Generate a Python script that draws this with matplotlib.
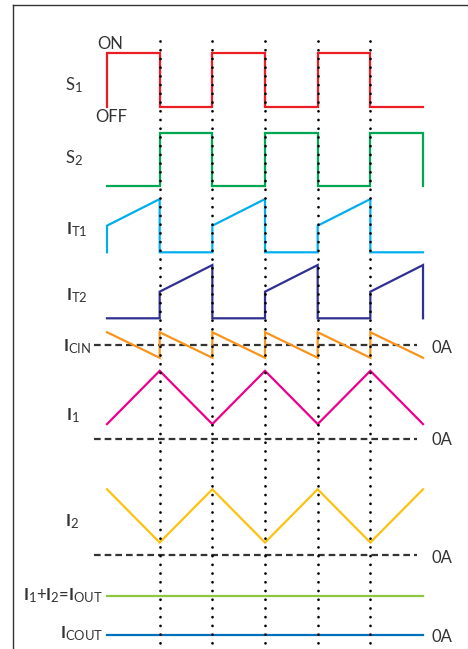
import numpy as np
import matplotlib
matplotlib.use("Agg")
import matplotlib.pyplot as plt
import matplotlib._mathtext as mtext
from matplotlib.lines import Line2D

plt.rcParams["font.family"] = ["Lato", "DejaVu Sans"]
plt.rcParams["mathtext.fontset"] = "custom"
plt.rcParams["mathtext.rm"] = "Lato"
plt.rcParams["mathtext.bf"] = "Lato:bold"
plt.rcParams["mathtext.it"] = "Lato"
plt.rcParams["mathtext.default"] = "regular"
mtext.SHRINK_FACTOR = 0.78  # subscripts a bit bigger, like the original artwork

# --- data (half periods of the switching cycle) ---
t_edges = np.arange(7)                  # switching instants 0..6
s1_state = [1, 0, 1, 0, 1, 0]           # S1 on/off per half period
s2_state = [0, 1, 0, 1, 0, 1]           # S2 on/off per half period
s_level = 2.5                           # switch "ON" level
it_start, it_peak = 1.25, 2.5           # transistor current ramp when on
icin_top, icin_bot = 0.6, -0.6          # input cap current sawtooth
i1_vals = [0.7, 3.2, 0.7, 3.2, 0.7, 3.2, 0.7]
i2_vals = [3.1, 0.6, 3.1, 0.6, 3.1, 0.6, 3.1]
i_out = 3.8
i_cout = 0.0

# --- layout (pixels) ---
W, H = 468, 649
T0_PX, DT_PX = 107, 52.67
SCALE = 21.3
INK = "#333333"


def pulse_path(states, lo, hi):
    t, y = [0], [0.0]
    for k, s in enumerate(states):
        t += [k, k + 1]
        y += [lo, hi] if s else [0.0, 0.0]
    t.append(len(states))
    y.append(0.0)
    return np.array(t), np.array(y)


def saw_path(n, top, bot):
    t, y = [], []
    for k in range(n):
        t += [k, k + 1]
        y += [top, bot]
    return np.array(t), np.array(y)


fig = plt.figure(figsize=(W / 100, H / 100), dpi=100)
ax = fig.add_axes([0, 0, 1, 1])
ax.set_xlim(-T0_PX / DT_PX, (W - T0_PX) / DT_PX)
ax.set_ylim(0, H)
ax.axis("off")

n = len(s1_state)
traces = [
    (pulse_path(s1_state, s_level, s_level), H - 106.7, "#ed1c24"),
    (pulse_path(s2_state, s_level, s_level), H - 186.0, "#00a651"),
    (pulse_path(s1_state, it_start, it_peak), H - 252.3, "#00aeef"),
    (pulse_path(s2_state, it_start, it_peak), H - 318.3, "#2e3192"),
    (saw_path(n, icin_top, icin_bot), H - 345.0, "#f7941d"),
    ((t_edges, np.array(i1_vals)), H - 439.0, "#ec008c"),
    ((t_edges, np.array(i2_vals)), H - 555.3, "#fdc20f"),
    ((t_edges[[0, -1]], np.full(2, i_out)), H - 596 - i_out * SCALE, "#8dc63f"),
    ((t_edges[[0, -1]], np.full(2, i_cout)), H - 635.0, "#0072bc"),
]
for (tt, yy), base, col in traces:
    ax.plot(tt, base + yy * SCALE, color=col, lw=1.6, solid_joinstyle="miter", zorder=2)

# zero reference lines
for base in [H - 345.0, H - 439.0, H - 555.3]:
    ax.plot([-0.24, 5.88], [base, base], color=INK, lw=1.6,
            linestyle=(0, (3.0, 1.8)), zorder=1)

# dotted timing markers
for t in t_edges[1:-1]:
    ax.plot([t, t], [H - 41, -5], color="black", lw=2.0,
            linestyle=(0, (0.01, 3.13)), dash_capstyle="round", zorder=3)

# frame (cropped box)
fig.add_artist(Line2D([13 / W, 1], [1 - 5 / H] * 2, color=INK, lw=1.0, transform=fig.transFigure))
fig.add_artist(Line2D([13 / W, 13 / W], [1 - 5 / H, 0], color=INK, lw=1.0, transform=fig.transFigure))


def label(x, y, s, ha="left", size=12):
    fig.text(x / W, 1 - y / H, s, ha=ha, va="baseline", fontsize=size, color=INK)


label(97, 49, "ON")
label(95, 121.7, "OFF")
label(65, 90, r"S$_1$")
label(65, 163.3, r"S$_2$")
label(66, 234, r"$\mathbf{I}_{T1}$")
label(66, 300, r"$\mathbf{I}_{T2}$")
label(91, 351.7, r"$\mathbf{I}_{CIN}$", ha="right")
label(66, 420, r"$\mathbf{I}_1$")
label(65, 526.7, r"$\mathbf{I}_2$")
label(103, 600, r"$\mathbf{I}_1$+$\mathbf{I}_2$=$\mathbf{I}_{OUT}$", ha="right")
label(103, 638.3, r"$\mathbf{I}_{COUT}$", ha="right")
for y in [353.3, 445, 562.7, 641.7]:
    label(431, y, "0A")

fig.savefig("out.png", dpi=100)
